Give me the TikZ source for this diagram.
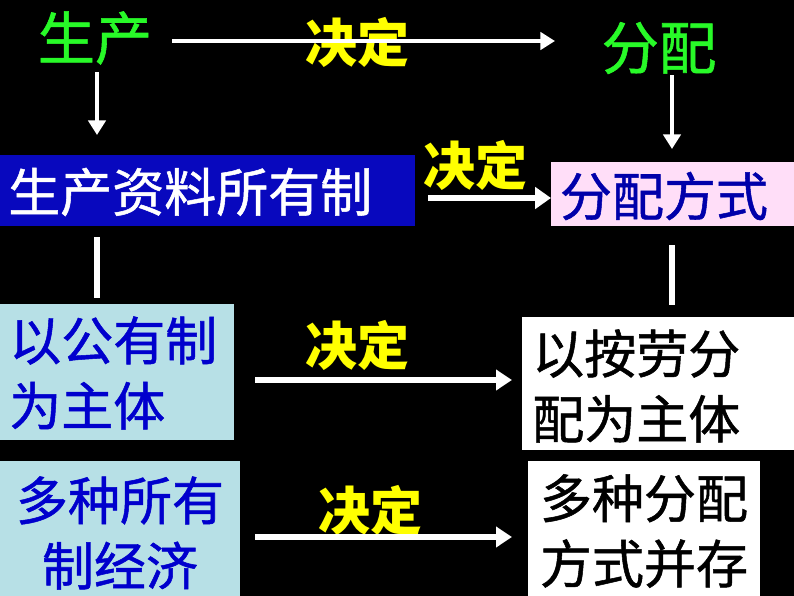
\documentclass[tikz,border=0pt]{standalone}
\usepackage{fontspec}
\newfontfamily\cjk[FakeBold=1]{Noto Sans CJK SC}
\newfontfamily\cjkb{Noto Sans CJK SC}
\usetikzlibrary{arrows.meta}
\definecolor{brgreen}{RGB}{40,250,40}
\definecolor{yel}{RGB}{255,255,0}
\definecolor{dblue}{RGB}{0,0,170}
\definecolor{boxblue}{RGB}{8,8,190}
\definecolor{tblue}{RGB}{0,0,205}
\definecolor{pinkbg}{RGB}{255,222,248}
\definecolor{lbluebg}{RGB}{183,224,230}
\tikzset{
  box/.style={draw=none,inner sep=0pt,outer sep=0pt,rectangle},
  txt/.style={inner sep=0pt,font=\cjk\fontsize{39}{49}\selectfont},
  big/.style={inner sep=0pt,font=\cjk\fontsize{43}{50}\selectfont,text=brgreen},
  jd/.style={inner sep=0pt,font=\cjkb\bfseries\fontsize{39}{49}\selectfont,text=yel},
  arr/.style={draw=white,-{Triangle[length=11pt,width=13pt]}},
  ln/.style={draw=white,line width=3.8pt}
}
\begin{document}
\begin{tikzpicture}[x=0.75pt,y=-0.75pt]
\fill[black] (0,0) rectangle (794,596);
\useasboundingbox (0,0) rectangle (794,596);
% boxes
\node[box,fill=boxblue,minimum width=311.25pt,minimum height=53.25pt] (b1) at (207.5,190.5) {};
\node[box,fill=pinkbg,minimum width=182.25pt,minimum height=48pt] (p1) at (672.5,194) {};
\node[box,fill=lbluebg,minimum width=175.5pt,minimum height=102pt] (l1) at (117,372) {};
\node[box,fill=white,minimum width=204pt,minimum height=99.75pt] (w1) at (658,383.5) {};
\node[box,fill=lbluebg,minimum width=180pt,minimum height=101.25pt] (l2) at (120,528.5) {};
\node[box,fill=white,minimum width=174pt,minimum height=101.25pt] (w2) at (644,528.5) {};
% texts
\node[big] (sc) at (95,38) {生产};
\node[big] (fp) at (659,48) {分配};
\node[jd] (j1) at (357,42) {决定};
\node[txt,text=white,anchor=west] (t1) at (8,192) {生产资料所有制};
\node[jd] (j2) at (475,165) {决定};
\node[txt,text=dblue] (t2) at (664,196) {分配方式};
\node[txt,text=tblue,anchor=west,align=left] (t3) at (9,373) {以公有制\\为主体};
\node[jd] (j3) at (357,345) {决定};
\node[txt,text=black,anchor=west,align=left] (t4) at (532,386) {以按劳分\\配为主体};
\node[txt,text=tblue,align=center] (t5) at (120,533) {多种所有\\制经济};
\node[jd] (j4) at (370,510) {决定};
\node[txt,text=black,align=center] (t6) at (644,531) {多种分配\\方式并存};
% connector end points
\coordinate (a1s) at (172,41); \coordinate (a1e) at (555,41);
\coordinate (d1s) at (97,72);  \coordinate (d1e) at (97,135);
\coordinate (d2s) at (672,75); \coordinate (d2e) at (672,149);
\coordinate (m1s) at (428,198);
\coordinate (v1s) at (97,237); \coordinate (v1e) at (97,298);
\coordinate (v2s) at (672,245); \coordinate (v2e) at (672,305);
\coordinate (r1s) at (255,380);
\coordinate (r2s) at (255,537);
% connectors
\draw[arr,line width=3pt] (a1s) -- (a1e);
\draw[arr,line width=3pt] (d1s) -- (d1e);
\draw[arr,line width=3pt] (d2s) -- (d2e);
\draw[arr,line width=4.5pt,-{Triangle[length=12pt,width=16pt]}] (m1s) -- (p1.west|-m1s);
\draw[ln] (v1s) -- (v1e);
\draw[ln] (v2s) -- (v2e);
\draw[arr,line width=4pt,-{Triangle[length=12pt,width=15pt]}] (r1s) -- ([xshift=-7.5pt]w1.west|-r1s);
\draw[arr,line width=4pt,-{Triangle[length=12pt,width=15pt]}] (r2s) -- ([xshift=-12pt]w2.west|-r2s);
\end{tikzpicture}
\end{document}
